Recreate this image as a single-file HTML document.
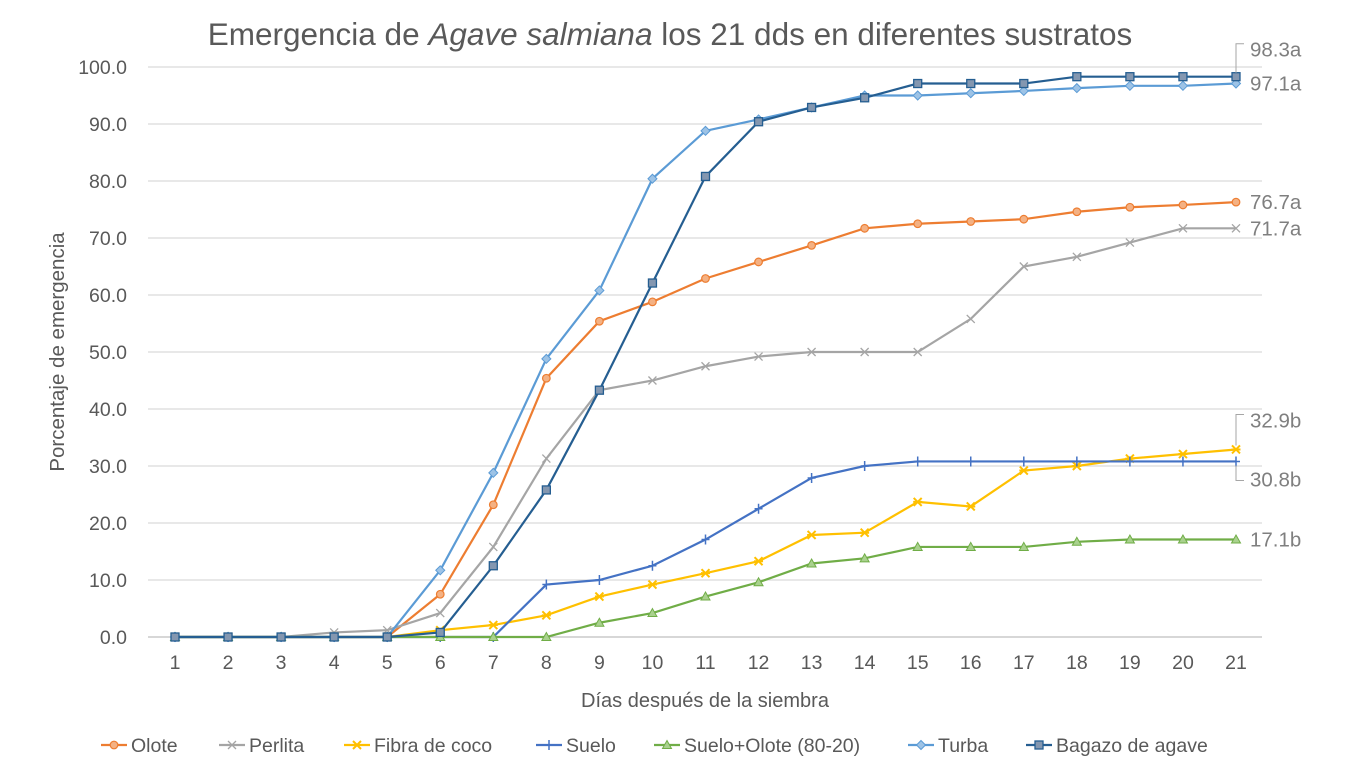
<!DOCTYPE html>
<html><head><meta charset="utf-8"><style>
body{margin:0;background:#fff;}
svg{display:block;font-family:"Liberation Sans",sans-serif;}
</style></head><body>
<svg id="chart" width="1353" height="770" viewBox="0 0 1353 770" xmlns="http://www.w3.org/2000/svg">
<text x="670" y="45" text-anchor="middle" font-size="31.5" fill="#595959">Emergencia de <tspan font-style="italic">Agave salmiana</tspan> los 21 dds en diferentes sustratos</text>
<text transform="translate(64,352) rotate(-90)" text-anchor="middle" font-size="20.5" fill="#595959">Porcentaje de emergencia</text>
<text x="705" y="707" text-anchor="middle" font-size="20" fill="#595959">Días después de la siembra</text>
<g id="grid"></g><g id="series"></g><g id="labels"></g><g id="legend"></g>
</svg>
<script>
const days=[1,2,3,4,5,6,7,8,9,10,11,12,13,14,15,16,17,18,19,20,21];
const yTicks=[0,10,20,30,40,50,60,70,80,90,100];
const names=["Olote","Perlita","Fibra de coco","Suelo","Suelo+Olote (80-20)","Turba","Bagazo de agave"];
const olote=[0,0,0,0,0,7.5,23.2,45.4,55.4,58.8,62.9,65.8,68.7,71.7,72.5,72.9,73.3,74.6,75.4,75.8,76.3];
const perlita=[0,0,0,0.8,1.2,4.2,15.8,31.3,43.3,45.0,47.5,49.2,50,50,50,55.8,65,66.7,69.2,71.7,71.7];
const fibra=[0,0,0,0,0,1.2,2.1,3.8,7.1,9.2,11.2,13.3,17.9,18.3,23.7,22.9,29.2,30,31.3,32.1,32.9];
const suelo=[0,0,0,0,0,0,0,9.2,10,12.5,17.1,22.5,27.9,30,30.8,30.8,30.8,30.8,30.8,30.8,30.8];
const sueloOlote=[0,0,0,0,0,0,0,0,2.5,4.2,7.1,9.6,12.9,13.8,15.8,15.8,15.8,16.7,17.1,17.1,17.1];
const turba=[0,0,0,0,0,11.7,28.8,48.8,60.8,80.4,88.8,90.8,92.9,95,95,95.4,95.8,96.3,96.7,96.7,97.1];
const bagazo=[0,0,0,0,0,0.8,12.5,25.8,43.3,62.1,80.8,90.4,92.9,94.6,97.1,97.1,97.1,98.3,98.3,98.3,98.3];
const endLabels=["76.7a","71.7a","32.9b","30.8b","17.1b","97.1a","98.3a"];

const NS="http://www.w3.org/2000/svg";
const X=d=>175+(d-1)*53.05, Y=v=>637-v*5.7;
function mk(tag,attrs,parent){const e=document.createElementNS(NS,tag);for(const k in attrs)e.setAttribute(k,attrs[k]);parent.appendChild(e);return e;}
const grid=document.getElementById('grid'),ser=document.getElementById('series'),lab=document.getElementById('labels'),leg=document.getElementById('legend');
yTicks.forEach(t=>{
 const l=mk('line',{x1:148,x2:1262,y1:Y(t),y2:Y(t),stroke:t===0?'#bfbfbf':'#d9d9d9','stroke-width':1.3},grid);
 
 
 const tx=mk('text',{x:127,y:Y(t)+7,'text-anchor':'end','font-size':19.5,fill:'#595959'},grid);
 tx.textContent=t.toFixed(1);
 
 
});
days.forEach(d=>{
 const tx=mk('text',{x:X(d),y:669,'text-anchor':'middle','font-size':19.5,fill:'#595959'},grid);
 tx.textContent=d;
 
 
});
const data=[olote,perlita,fibra,suelo,sueloOlote,turba,bagazo];
const colors=["#ed7d31","#a5a5a5","#ffc000","#4472c4","#70ad47","#5b9bd5","#255e91"];
const shapes=["circle","x","star","plus","tri","diamond","square"];
function marker(s,x,y,c,p){
 if(s==="circle")mk('circle',{cx:x,cy:y,r:3.8,fill:'#f4b183',stroke:c,'stroke-width':1.2},p);
 else if(s==="x")mk('path',{d:`M${x-4} ${y-4}L${x+4} ${y+4}M${x-4} ${y+4}L${x+4} ${y-4}`,stroke:c,'stroke-width':1.3},p);
 else if(s==="star")mk('path',{d:`M${x-4} ${y-4}L${x+4} ${y+4}M${x-4} ${y+4}L${x+4} ${y-4}M${x-4.5} ${y}L${x+4.5} ${y}`,stroke:c,'stroke-width':2},p);
 else if(s==="plus")mk('path',{d:`M${x} ${y-5}L${x} ${y+5}M${x-4} ${y}L${x+4} ${y}`,stroke:c,'stroke-width':1.5},p);
 else if(s==="tri")mk('path',{d:`M${x} ${y-4.5}L${x+4.5} ${y+3.5}L${x-4.5} ${y+3.5}Z`,fill:'#a9d18e',stroke:c,'stroke-width':1},p);
 else if(s==="diamond")mk('path',{d:`M${x} ${y-4.5}L${x+4.5} ${y}L${x} ${y+4.5}L${x-4.5} ${y}Z`,fill:'#9dc3e6',stroke:c,'stroke-width':1},p);
 else mk('rect',{x:x-4,y:y-4,width:8,height:8,fill:'#8497b0',stroke:c,'stroke-width':1.3},p);
}
data.forEach((arr,i)=>{
 const g=mk('g',{},ser);
 
 
 mk('polyline',{points:arr.map((v,j)=>X(days[j])+','+Y(v)).join(' '),fill:'none',stroke:colors[i],'stroke-width':2.2},g);
 arr.forEach((v,j)=>marker(shapes[i],X(days[j]),Y(v),colors[i],g));
});
const lx=1250;
const lpos=[[lx,Y(olote[20])+7,null],[lx,Y(perlita[20])+7,null],[lx,Y(fibra[20])-22,'up'],[lx,Y(suelo[20])+25,'down'],[lx,Y(sueloOlote[20])+7,null],[lx,Y(turba[20])+7,null],[lx,Y(bagazo[20])-20,'up']];
lpos.forEach((p,i)=>{
 const t=mk('text',{x:p[0],y:p[1],'font-size':20.5,fill:'#7f7f7f'},lab);
 t.textContent=endLabels[i];
 
 
 const px=X(21),py=Y(data[i][20]);
 if(p[2]==='up')mk('path',{d:`M${px} ${py-4}L${px} ${p[1]-13}L${px+8} ${p[1]-13}`,fill:'none',stroke:'#a6a6a6','stroke-width':1},lab);
 if(p[2]==='down')mk('path',{d:`M${px} ${py+4}L${px} ${p[1]-6}L${px+8} ${p[1]-6}`,fill:'none',stroke:'#a6a6a6','stroke-width':1},lab);
});
const lgx=[101,219,344,536,654,908,1026];
names.forEach((n,i)=>{
 const g=mk('g',{},leg);
 
 
 mk('line',{x1:lgx[i],x2:lgx[i]+26,y1:745,y2:745,stroke:colors[i],'stroke-width':2.2},g);
 marker(shapes[i],lgx[i]+13,745,colors[i],g);
 const t=mk('text',{x:lgx[i]+30,y:752,'font-size':19.5,fill:'#595959'},g);
 t.textContent=n;
});
</script>
</body></html>
